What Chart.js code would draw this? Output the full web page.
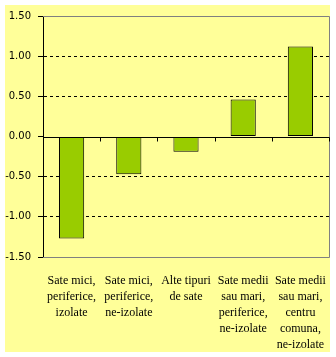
<!DOCTYPE html>
<html>
<head>
<meta charset="utf-8">
<script src="https://cdn.jsdelivr.net/npm/chart.js@4"></script>
<style>
  html, body { margin: 0; padding: 0; background: #fff; }
  canvas { display: block; }
</style>
</head>
<body>
<canvas id="chart" width="336" height="357"></canvas>
<script>
// categories (multi-line labels, as in the original)
const categories = [
    ['Sate mici,', 'periferice,', 'izolate'],
    ['Sate mici,', 'periferice,', 'ne-izolate'],
    ['Alte tipuri', 'de sate'],
    ['Sate medii', 'sau mari,', 'periferice,', 'ne-izolate'],
    ['Sate medii', 'sau mari,', 'centru', 'comuna,', 'ne-izolate']
];
const values = [-1.27, -0.47, -0.19, 0.46, 1.12];
const yTicks = [-1.5, -1.0, -0.5, 0, 0.5, 1.0, 1.5];

const barColor = '#99CC00';
const plotBg = '#FFFF99';
const frameGrey = '#808080';

// yellow chart area + solid zero line + grey frame + x tick marks on the zero line
const framePlugin = {
    id: 'frame',
    beforeDraw(chart) {
        const ctx = chart.ctx;
        ctx.save();
        ctx.fillStyle = plotBg;
        ctx.fillRect(5, 5, 325, 347);
        ctx.restore();
    },
    beforeDatasetsDraw(chart) {
        const { ctx, chartArea: a, scales: { x, y } } = chart;
        ctx.save();
        ctx.lineWidth = 1;
        ctx.strokeStyle = frameGrey;
        ctx.beginPath();
        const top = Math.round(y.getPixelForValue(yTicks[yTicks.length - 1])) + 0.5;
        const bot = Math.round(y.getPixelForValue(yTicks[0])) + 0.5;
        const right = Math.round(a.right) + 0.5;
        ctx.moveTo(a.left, top); ctx.lineTo(right, top);
        ctx.lineTo(right, bot); ctx.lineTo(a.left, bot);
        ctx.stroke();

        const zero = Math.round(y.getPixelForValue(0)) + 0.5;
        ctx.strokeStyle = '#000';
        ctx.beginPath();
        ctx.moveTo(a.left, zero); ctx.lineTo(right, zero);
        for (let i = 1; i <= categories.length; i++) {
            const px = Math.round(x.getPixelForValue(i - 0.5)) + 0.5;
            ctx.moveTo(px, zero); ctx.lineTo(px, zero + 4);
        }
        ctx.stroke();
        ctx.restore();
    }
};

new Chart(document.getElementById('chart'), {
    type: 'bar',
    data: {
        labels: categories,
        datasets: [{
            data: values,
            backgroundColor: barColor,
            borderColor: '#000',
            borderWidth: 1,
            borderSkipped: false,
            inflateAmount: 0,
            categoryPercentage: 1,
            barPercentage: 0.44
        }]
    },
    options: {
        responsive: false,
        animation: false,
        devicePixelRatio: 1,
        layout: { padding: { left: 0, top: 16, right: 7, bottom: 0 } },
        plugins: {
            legend: { display: false },
            tooltip: { enabled: false }
        },
        scales: {
            x: {
                offset: true,
                grid: { display: false },
                border: { display: false },
                ticks: {
                    color: '#000',
                    maxRotation: 0,
                    autoSkip: false,
                    padding: 8,
                    font: { family: '"Liberation Serif", serif', size: 12, lineHeight: 1.33 }
                },
                afterFit(scale) { scale.height = 100; }
            },
            y: {
                min: yTicks[0],
                max: yTicks[yTicks.length - 1],
                afterBuildTicks(scale) { scale.ticks = yTicks.map(v => ({ value: v })); },
                grid: {
                    color: ctx => (ctx.tick && (ctx.tick.value === 0 || Math.abs(ctx.tick.value) === 1.5)) ? 'rgba(0,0,0,0)' : '#000',
                    tickColor: '#000',
                    tickLength: 5,
                    lineWidth: 1
                },
                border: { display: true, color: '#000', width: 1, dash: [3, 3] },
                ticks: {
                    color: '#000',
                    padding: 7,
                    font: { family: '"DejaVu Sans", sans-serif', size: 10 },
                    callback: v => Number(v).toFixed(2)
                },
                afterFit(scale) { scale.width = 43; }
            }
        }
    },
    plugins: [framePlugin]
});
</script>
</body>
</html>
